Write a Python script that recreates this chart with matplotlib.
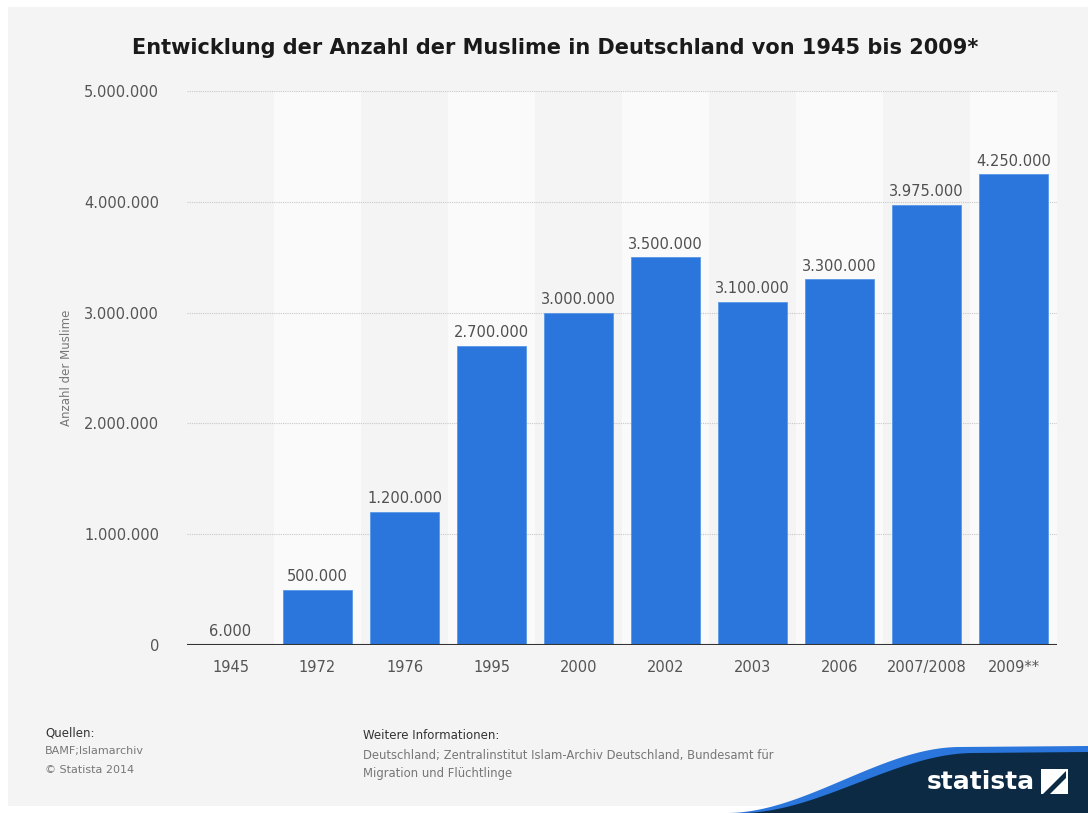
import numpy as np
import matplotlib
matplotlib.use("Agg")
import matplotlib.pyplot as plt
from matplotlib.patches import Rectangle, Polygon

years = ["1945", "1972", "1976", "1995", "2000", "2002", "2003", "2006", "2007/2008", "2009**"]
muslims = [6000, 500000, 1200000, 2700000, 3000000, 3500000, 3100000, 3300000, 3975000, 4250000]
y_ticks = [0, 1000000, 2000000, 3000000, 4000000, 5000000]

bar_color = "#2a76dc"
page_grey = "#f4f4f4"
band_grey = "#fafafa"
navy = "#0c2a44"


def de_number(v):
    return f"{v:,.0f}".replace(",", ".")


W, H = 1088, 813
fig = plt.figure(figsize=(W / 100, H / 100), dpi=100)
fig.patch.set_facecolor("white")

# background layer in pixel units (origin top-left)
bg = fig.add_axes([0, 0, 1, 1], zorder=0)
bg.set_xlim(0, W)
bg.set_ylim(H, 0)
bg.axis("off")
bg.add_patch(Rectangle((8, 7), W - 8, 799, facecolor=page_grey, edgecolor="none"))

bg.text(555, 48, "Entwicklung der Anzahl der Muslime in Deutschland von 1945 bis 2009*",
        ha="center", va="center", fontsize=15, fontweight="bold", color="#1a1a1a")

bg.text(67, 368, "Anzahl der Muslime", rotation=90, ha="center", va="center",
        fontsize=8.5, color="#777777")

# footer
bg.text(45, 733, "Quellen:", fontsize=8.5, color="#333333", va="center")
bg.text(45, 751, "BAMF;Islamarchiv", fontsize=8, color="#777777", va="center")
bg.text(45, 770, "© Statista 2014", fontsize=8, color="#777777", va="center")
bg.text(363, 735, "Weitere Informationen:", fontsize=8.5, color="#333333", va="center")
bg.text(363, 755, "Deutschland; Zentralinstitut Islam-Archiv Deutschland, Bundesamt für",
        fontsize=8.4, color="#777777", va="center")
bg.text(363, 773, "Migration und Flüchtlinge", fontsize=8.4, color="#777777", va="center")

# statista logo wave
t = np.linspace(0, 1, 60)
wave_x = 727 + (960 - 727) * t
wave_y = 813 - 66 * (3 * t**2 - 2 * t**3)
rim = list(zip(wave_x, wave_y)) + [(W, 746), (W, H), (727, H)]
bg.add_patch(Polygon(rim, closed=True, facecolor=bar_color, edgecolor="none"))
wave_y2 = 813 - 60 * (3 * t**2 - 2 * t**3)
body = list(zip(wave_x + 14, wave_y2)) + [(W, 752), (W, H), (741, H)]
bg.add_patch(Polygon(body, closed=True, facecolor=navy, edgecolor="none"))
bg.text(981, 782, "statista", ha="center", va="center", fontsize=18, fontweight="bold",
        color="white")
bg.add_patch(Rectangle((1041, 769), 27, 25, facecolor="white", edgecolor="none"))
bg.add_patch(Polygon([(1043, 794), (1066, 771), (1066, 778), (1050, 794)], closed=True,
                     facecolor=navy, edgecolor="none"))

# main chart
ax = fig.add_axes([187 / W, 1 - 645 / H, 870 / W, 554 / H], zorder=1)
ax.set_facecolor("none")
x = np.arange(len(years))
ax.set_xlim(-0.5, len(years) - 0.5)
ax.set_ylim(0, 5000000)

for i in x:
    if i % 2 == 1:
        ax.axvspan(i - 0.5, i + 0.5, color=band_grey, zorder=0, lw=0)

for yt in y_ticks[1:]:
    ax.axhline(yt, color="#c8c8c8", linewidth=0.8, linestyle=(0, (1, 1)), zorder=1)

ax.bar(x, muslims, width=0.79, color=bar_color, edgecolor="#5a97e6", linewidth=0.6, zorder=2)
ax.axhline(0, color="#333333", linewidth=1.5, zorder=3)

for xi, v in zip(x, muslims):
    ax.annotate(de_number(v), (xi, v), xytext=(0, 4), textcoords="offset points",
                ha="center", va="bottom", fontsize=10.5, color="#505050", zorder=4)

ax.set_xticks(x)
ax.set_xticklabels(years)
ax.set_yticks(y_ticks)
ax.set_yticklabels([de_number(v) for v in y_ticks])
ax.tick_params(axis="x", length=0, pad=11, labelsize=10.5, labelcolor="#555555")
ax.tick_params(axis="y", length=0, pad=20, labelsize=10.5, labelcolor="#555555")
for side in ["top", "right", "bottom", "left"]:
    ax.spines[side].set_visible(False)

fig.savefig("out.png", dpi=100, facecolor=fig.get_facecolor())
